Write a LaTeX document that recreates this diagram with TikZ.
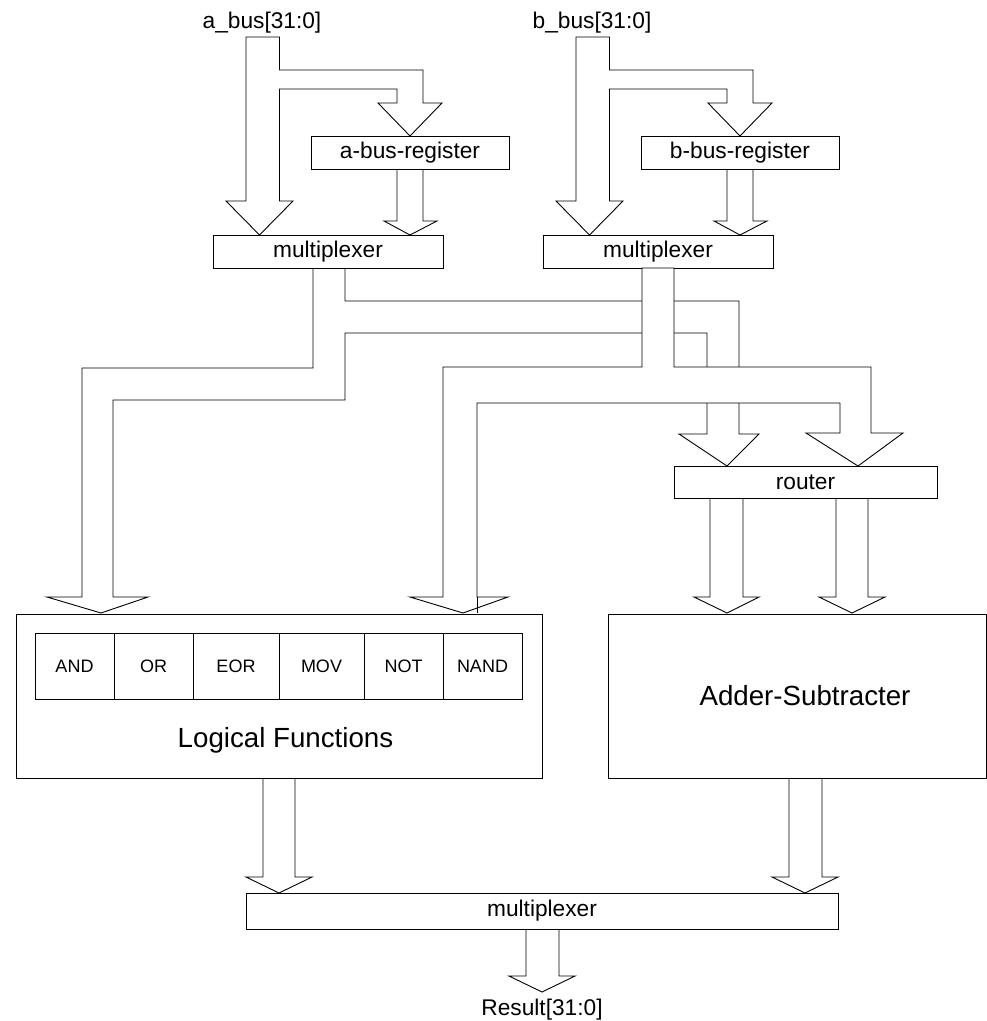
\documentclass[tikz,border=0pt]{standalone}
\usepackage{fontspec}
\setmainfont{Liberation Sans}
\begin{document}
\begin{tikzpicture}[x=1pt,y=-1pt,
  wire/.style={line width=0.9pt, line join=miter},
  buscover/.style={wire, fill=white},
  box/.style={draw, line width=0.9pt, inner sep=0pt, font=\fontsize{22.7}{27}\selectfont},
  bigbox/.style={draw, line width=0.9pt, inner sep=0pt},
  gate/.style={draw, line width=0.9pt, inner sep=0pt, minimum height=66pt, font=\fontsize{18}{22}\selectfont},
  lbl/.style={inner sep=0pt, anchor=base, font=\fontsize{22.7}{27}\selectfont},
  biglbl/.style={inner sep=0pt, font=\fontsize{27.7}{33}\selectfont}
]
\useasboundingbox (0,0) rectangle (987,1021);

% input labels
\node[lbl] (ain) at (262,28) {a\_bus[31:0]};
\node[lbl] (bin) at (592,28) {b\_bus[31:0]};

% input buses: split to multiplexer and register
\draw[wire] (246,37) -- (279.5,37) -- (279.5,70) -- (423,70) -- (423,103) -- (442,103)
  -- (410,136) -- (378,103) -- (397,103) -- (397,89) -- (279.5,89) -- (279.5,201)
  -- (293,201) -- (259.5,235) -- (226,201) -- (246,201) -- cycle;
\draw[wire] (576,37) -- (609.5,37) -- (609.5,70) -- (753,70) -- (753,103) -- (772,103)
  -- (740,136) -- (708,103) -- (727,103) -- (727,89) -- (609.5,89) -- (609.5,201)
  -- (623,201) -- (589.5,235) -- (556,201) -- (576,201) -- cycle;

% registers
\node[box, minimum width=198pt, minimum height=33pt] (regA) at (410,152.5) {a-bus-register};
\node[box, minimum width=198pt, minimum height=33pt] (regB) at (740,152.5) {b-bus-register};

% register to multiplexer
\draw[wire] (397,169) -- (397,221) -- (384,221) -- (410,235) -- (437,221) -- (423,221) -- (423,169);
\draw[wire] (727,169) -- (727,221) -- (714,221) -- (740,235) -- (767,221) -- (753,221) -- (753,169);

% input multiplexers
\node[box, minimum width=230pt, minimum height=33pt] (muxA) at (328,251.5) {multiplexer};
\node[box, minimum width=230pt, minimum height=33pt] (muxB) at (658,251.5) {multiplexer};

% a-side operand bus: to logical functions and to router
\draw[wire] (313,268) -- (313,368) -- (82,368) -- (82,597) -- (47,597) -- (101,613)
  -- (148,597) -- (113,597) -- (113,400) -- (345,400) -- (345,333) -- (707,333)
  -- (707,434) -- (679,434) -- (727,466) -- (759,434) -- (739,434) -- (739,301)
  -- (345,301) -- (345,268);

% b-side operand bus, passing over the a-side bus
\draw[buscover] (642,268) -- (642,367) -- (443,367) -- (443,597) -- (410,597) -- (463,613)
  -- (508,597) -- (477,597) -- (477,403) -- (840,403) -- (840,433) -- (806,433)
  -- (858,466) -- (903,433) -- (871,433) -- (871,367) -- (674,367) -- (674,268) -- cycle;
\draw[wire] (477,597) -- (477,613);

% router
\node[box, minimum width=263pt, minimum height=32pt] (router) at (805.5,482) {router};
\draw[wire] (710,498) -- (710,597) -- (694,597) -- (727,613) -- (759,597) -- (743,597) -- (743,498);
\draw[wire] (836,498) -- (836,597) -- (819,597) -- (852,613) -- (885,597) -- (868,597) -- (868,498);

% logical functions unit
\node[bigbox, minimum width=526pt, minimum height=164pt] (logic) at (279,696) {};
\node[gate, minimum width=79pt] (gand) at (74.5,666) {AND};
\node[gate, minimum width=79pt] (gor) at (153.5,666) {OR};
\node[gate, minimum width=86pt] (geor) at (236,666) {EOR};
\node[gate, minimum width=85pt] (gmov) at (321.5,666) {MOV};
\node[gate, minimum width=79pt] (gnot) at (403.5,666) {NOT};
\node[gate, minimum width=79pt] (gnand) at (482.5,666) {NAND};
\node[biglbl, anchor=base] (logicname) at (285.5,747) {Logical Functions};

% adder-subtracter unit
\node[bigbox, minimum width=378pt, minimum height=164pt] (adder) at (797,696) {};
\node[biglbl] (addername) at (805,696) {Adder-Subtracter};

% results into output multiplexer
\draw[wire] (263,778) -- (263,877) -- (246,877) -- (279,893) -- (312,877) -- (295,877) -- (295,778);
\draw[wire] (789,778) -- (789,877) -- (772,877) -- (805,893) -- (838,877) -- (822,877) -- (822,778);

\node[box, minimum width=592pt, minimum height=36pt] (muxOut) at (542,911) {multiplexer};

\draw[wire] (526,929) -- (526,976) -- (509,976) -- (542,992) -- (575,976) -- (559,976) -- (559,929);
\node[lbl] (res) at (542,1015) {Result[31:0]};
\end{tikzpicture}
\end{document}
